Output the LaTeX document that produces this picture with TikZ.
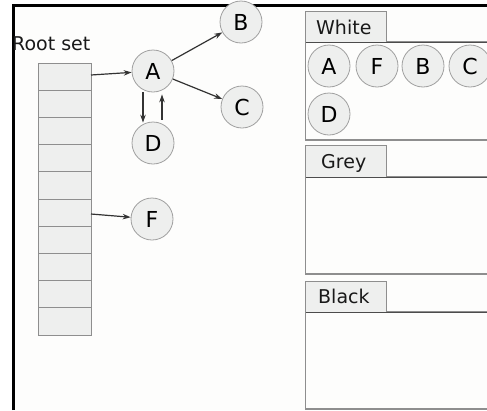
\documentclass[tikz,border=0pt]{standalone}
\usepackage{fontspec}
\setmainfont{DejaVu Sans}
\usetikzlibrary{arrows.meta}
\definecolor{cellfill}{HTML}{EEEFEE}
\definecolor{cellline}{HTML}{8E8E8E}
\definecolor{circline}{HTML}{A0A0A0}
\definecolor{bg}{HTML}{FDFDFC}
\tikzset{
  obj/.style={circle, draw=circline, fill=cellfill, line width=0.8pt, minimum size=42pt, inner sep=0pt, font=\fontsize{22}{22}\selectfont},
  cell/.style={draw=cellline, fill=cellfill, line width=1pt},
  ptr/.style={draw=black!80, line width=1.2pt, -{Stealth[length=8pt,width=5.5pt]}},
  tab/.style={draw=cellline, fill=cellfill, line width=1pt},
  panel/.style={draw=cellline, line width=1.2pt},
  lbl/.style={font=\fontsize{19}{19}\selectfont, text=black!90},
}
\begin{document}
\begin{tikzpicture}[x=1pt,y=-1pt]
\useasboundingbox (0,0) rectangle (487,410);
\fill[bg] (13,5) rectangle (487,410);
% frame
\draw[line width=3pt] (13.5,410) -- (13.5,5) -- (487,5);
% Root set
\node[lbl, anchor=base west, inner sep=0pt] (rootlbl) at (12,50) {Root set};
\foreach \i in {0,...,9} {
  \draw[cell] (38,{63+27.2*\i}) rectangle (91,{63+27.2*(\i+1)});
}
\coordinate (r1) at (91,75);
\coordinate (r6) at (91,214);
% graph nodes
\node[obj] (A) at (153,71) {A};
\node[obj] (B) at (241,22) {B};
\node[obj] (C) at (242,107) {C};
\node[obj] (D) at (153,143) {D};
\node[obj] (F) at (152,219) {F};
\draw[ptr] (r1) -- (A);
\draw[ptr] (r6) -- (F);
\draw[ptr] (A) -- (B);
\draw[ptr] (A) -- (C);
\draw[ptr] ([xshift=-10pt]A.south) -- ([xshift=-10pt,yshift=-1pt]D.north);
\draw[ptr] ([xshift=9pt,yshift=2pt]D.north) -- ([xshift=9pt,yshift=-2pt]A.south);
% panels
\draw[panel] (505,42) -- (305.5,42) -- (305.5,140) -- (505,140);
\draw[tab] (305.5,42) -- (305.5,11) -- (386,11) -- (386,42);
\node[lbl, anchor=base west, inner sep=0pt] (white) at (316,34) {White};
\draw[panel] (505,177) -- (305.5,177) -- (305.5,274) -- (505,274);
\draw[tab] (305.5,177) -- (305.5,145) -- (386,145) -- (386,177);
\node[lbl, anchor=base west, inner sep=0pt] (grey) at (321,168) {Grey};
\draw[panel] (505,312) -- (305.5,312) -- (305.5,409) -- (505,409);
\draw[tab] (305.5,312) -- (305.5,281) -- (386,281) -- (386,312);
\node[lbl, anchor=base west, inner sep=0pt] (black) at (318,303) {Black};
\draw[black!70, line width=1pt] (305.5,42) -- (505,42);
\draw[black!70, line width=1pt] (305.5,177) -- (505,177);
\draw[black!70, line width=1pt] (305.5,312) -- (505,312);
% white set
\node[obj] (wA) at (329,66) {A};
\node[obj] (wF) at (377,66) {F};
\node[obj] (wB) at (423,66) {B};
\node[obj] (wC) at (470,66) {C};
\node[obj] (wD) at (329,114) {D};
\end{tikzpicture}
\end{document}
